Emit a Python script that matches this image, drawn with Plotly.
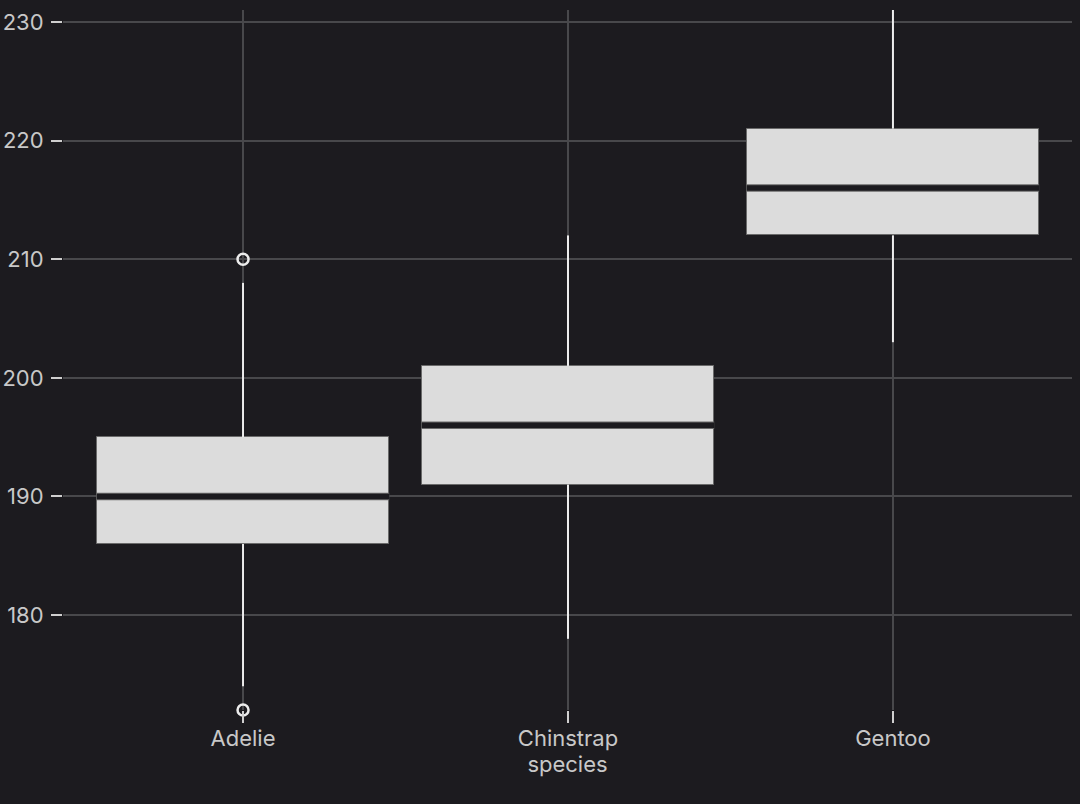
import plotly.graph_objects as go

species = ["Adelie", "Chinstrap", "Gentoo"]
q1 = [186, 191, 212]
median = [190, 196, 216]
q3 = [195, 201, 221]
lower = [174, 178, 203]
upper = [208, 212, 231]
outlier_species = ["Adelie", "Adelie"]
outlier_values = [210, 172]

BG = "#1c1b1f"
GRID = "#48484b"
TEXT = "#c8c8c8"
BOXW = 0.9

xpos = list(range(len(species)))
idx = {s: i for i, s in enumerate(species)}

fig = go.Figure()

# boxes
fig.add_trace(go.Bar(x=xpos, y=[q3[i] - q1[i] for i in xpos], base=q1,
                     width=BOXW,
                     marker=dict(color="#dcdcdc", line=dict(color="#6a6a6a", width=1)),
                     showlegend=False))

# whiskers (outside the boxes)
wx, wy = [], []
for i in xpos:
    wx += [i, i, None, i, i, None]
    wy += [q3[i], upper[i], None, lower[i], q1[i], None]
fig.add_trace(go.Scatter(x=wx, y=wy, mode="lines",
                         line=dict(color="#ececec", width=2),
                         hoverinfo="skip", showlegend=False, cliponaxis=False))

# medians
mx, my = [], []
for i in xpos:
    mx += [i - BOXW / 2, i + BOXW / 2, None]
    my += [median[i], median[i], None]
fig.add_trace(go.Scatter(x=mx, y=my, mode="lines",
                         line=dict(color="#6a6a6a", width=7.5),
                         hoverinfo="skip", showlegend=False))
fig.add_trace(go.Scatter(x=mx, y=my, mode="lines",
                         line=dict(color=BG, width=5.5),
                         hoverinfo="skip", showlegend=False))

# outliers
fig.add_trace(go.Scatter(x=[idx[s] for s in outlier_species], y=outlier_values,
                         mode="markers",
                         marker=dict(symbol="circle-open", size=11, color="#ececec",
                                     line=dict(width=2.5, color="#ececec")),
                         showlegend=False, cliponaxis=False))

fig.update_layout(
    width=1080, height=804,
    margin=dict(l=63, r=8, t=10, b=94),
    paper_bgcolor=BG, plot_bgcolor=BG,
    font=dict(family="Inter", size=22, color=TEXT),
    bargap=0,
)
fig.update_xaxes(
    range=[-0.554, 2.551],
    tickmode="array", tickvals=xpos, ticktext=species,
    showgrid=True, gridcolor=GRID, gridwidth=1.5,
    ticks="outside", ticklen=12, tickwidth=1.5, tickcolor="#cfcfcf",
    ticklabelstandoff=-3,
    showline=False, zeroline=False, automargin=False,
    title=dict(text="species", standoff=3, font=dict(size=22, color=TEXT)),
)
fig.update_yaxes(
    range=[172, 231],
    tickvals=[180, 190, 200, 210, 220, 230],
    showgrid=True, gridcolor=GRID, gridwidth=1.5,
    ticks="outside", ticklen=11, tickwidth=1.5, tickcolor="#cfcfcf",
    ticklabelstandoff=3,
    showline=False, zeroline=False, automargin=False,
)

fig.write_html("out.html")
